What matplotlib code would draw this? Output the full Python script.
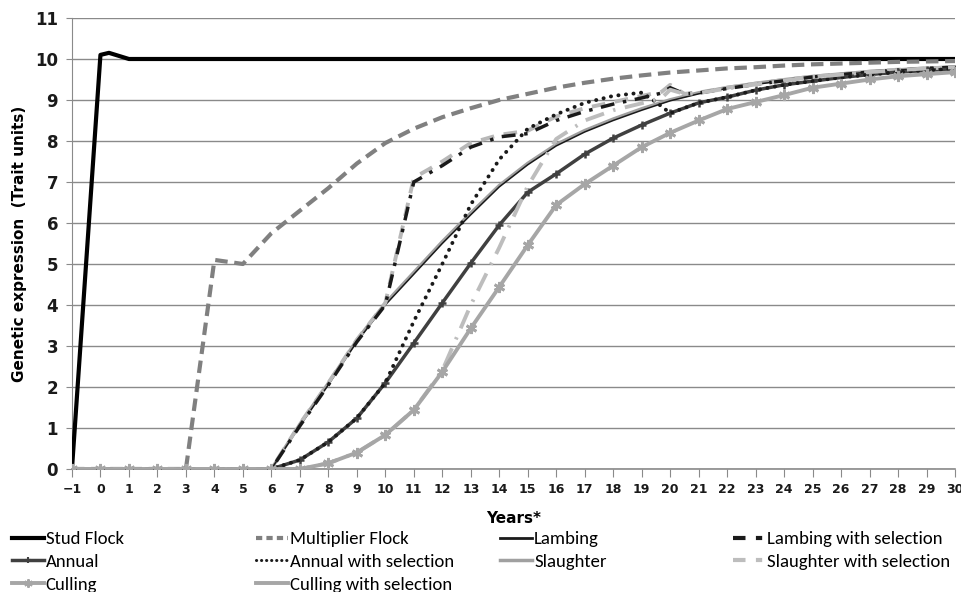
import numpy as np
import matplotlib.pyplot as plt
from matplotlib.lines import Line2D

# years -1 .. 30
years = list(range(-1, 31))

stud_x = [-1, 0, 0.3, 1] + list(range(2, 31))
stud = [0, 10.1, 10.15, 10] + [10] * 29

multiplier = [0, 0, 0, 0, 0, 5.1, 5.0, 5.75, 6.3, 6.85, 7.45, 7.95, 8.3, 8.58,
              8.8, 9.0, 9.15, 9.3, 9.42, 9.52, 9.6, 9.67, 9.72, 9.77, 9.8,
              9.84, 9.87, 9.89, 9.91, 9.93, 9.94, 9.95]

lambing = [0, 0, 0, 0, 0, 0, 0, 0, 1.05, 2.05, 3.1, 4.0, 4.75, 5.5, 6.2, 6.88,
           7.42, 7.88, 8.22, 8.5, 8.75, 8.98, 9.15, 9.28, 9.38, 9.47, 9.56,
           9.62, 9.68, 9.73, 9.77, 9.8]

slaughter = [0, 0, 0, 0, 0, 0, 0, 0, 1.1, 2.1, 3.15, 4.05, 4.8, 5.55, 6.25,
             6.92, 7.46, 7.92, 8.26, 8.54, 8.79, 9.01, 9.18, 9.31, 9.41, 9.5,
             9.58, 9.64, 9.7, 9.74, 9.78, 9.81]

annual = [0, 0, 0, 0, 0, 0, 0, 0, 0.22, 0.66, 1.24, 2.1, 3.07, 4.05, 5.02,
          5.95, 6.75, 7.2, 7.68, 8.07, 8.39, 8.68, 8.93, 9.07, 9.24, 9.37,
          9.46, 9.55, 9.62, 9.68, 9.72, 9.76]

culling = [0, 0, 0, 0, 0, 0, 0, 0, 0, 0.14, 0.4, 0.83, 1.44, 2.37, 3.43, 4.44,
           5.46, 6.44, 6.95, 7.4, 7.85, 8.2, 8.5, 8.78, 8.95, 9.12, 9.3, 9.4,
           9.5, 9.58, 9.63, 9.68]

sel_x = list(range(-1, 20)) + [19.7, 20, 20.5] + list(range(21, 31))

lambing_sel = ([0, 0, 0, 0, 0, 0, 0, 0, 1.05, 2.05, 3.1, 4.0, 7.0, 7.4, 7.85,
                8.1, 8.18, 8.5, 8.72, 8.9, 9.05, 9.17, 9.3, 9.15, 9.17]
               + [9.28, 9.38, 9.47, 9.56, 9.62, 9.68, 9.73, 9.77, 9.8])

culling_sel = ([0, 0, 0, 0, 0, 0, 0, 0, 1.1, 2.1, 3.15, 4.05, 7.1, 7.5, 7.95,
                8.15, 8.25, 8.6, 8.8, 8.95, 9.1, 9.2, 9.37, 9.15, 9.18]
               + [9.3, 9.4, 9.49, 9.57, 9.63, 9.69, 9.74, 9.77, 9.8])

annual_sel_x = list(range(-1, 20)) + [19.5, 20] + list(range(21, 31))
annual_sel = ([0, 0, 0, 0, 0, 0, 0, 0, 0.22, 0.66, 1.24, 2.1, 3.6, 5.0, 6.45,
               7.55, 8.3, 8.65, 8.93, 9.1, 9.18, 8.95, 8.68]
              + [8.93, 9.07, 9.24, 9.37, 9.46, 9.55, 9.62, 9.68, 9.72, 9.76])

slaughter_sel = ([0, 0, 0, 0, 0, 0, 0, 0, 0, 0.14, 0.4, 0.83, 1.44, 2.4, 4.0,
                  5.4, 6.9, 8.05, 8.5, 8.75, 8.92, 9.05, 9.25, 9.15, 9.17]
                 + [9.28, 9.38, 9.47, 9.56, 9.62, 9.68, 9.73, 9.77, 9.8])

star = (6, 2, 0)

fig = plt.figure(figsize=(9.62, 5.92), dpi=100)
ax = fig.add_axes([0.0748, 0.2078, 0.918, 0.7618])

ax.plot(stud_x, stud, color='black', lw=3, zorder=3)
ax.plot(years, multiplier, color='#808080', lw=3, dashes=(3, 1.6), zorder=3)
ax.plot(years, slaughter, color='#a0a0a0', lw=2.2, zorder=3)
ax.plot(years, lambing, color='#1a1a1a', lw=1.1, zorder=3)
ax.plot(sel_x, culling_sel, color='#b8b8b8', lw=2.8, dashes=(3.5, 2.5), zorder=3)
ax.plot(sel_x, lambing_sel, color='#1a1a1a', lw=2.5, dashes=(4, 2.5, 1, 2.5), zorder=3)
ax.plot(years, annual, color='#404040', lw=2.5, marker='+', ms=6, mew=1.8, zorder=3)
ax.plot(annual_sel_x, annual_sel, color='#1a1a1a', lw=2.8, dashes=(0.05, 1.9),
        dash_capstyle='round', zorder=3)
ax.plot(sel_x, slaughter_sel, color='#bdbdbd', lw=2.8, dashes=(5, 2.5, 0.6, 2.5), zorder=3)
ax.plot(years, culling, color='#a6a6a6', lw=2.8, marker=star, ms=8, mew=2, zorder=3)

ax.set_xlim(-1, 30)
ax.set_ylim(0, 11)
ax.set_xticks(range(-1, 31))
ax.set_yticks(range(0, 12))
ax.grid(axis='y', color='#8a8a8a', lw=1)
ax.set_axisbelow(True)
for s in ['top', 'right']:
    ax.spines[s].set_visible(False)
ax.spines['left'].set_color('#8a8a8a')
ax.spines['bottom'].set_color('#8a8a8a')
ax.spines['bottom'].set_linewidth(1.2)
ax.tick_params(axis='x', direction='out', length=6, color='#8a8a8a', labelsize=9, pad=4)
ax.tick_params(axis='y', direction='out', length=4, color='#8a8a8a', labelsize=12, pad=6)
for lab in ax.get_xticklabels() + ax.get_yticklabels():
    lab.set_fontweight('bold')
    lab.set_color('#1a1a1a')

ax.set_xlabel('Years*', fontsize=11, fontweight='bold', labelpad=11)
ax.set_ylabel('Genetic expression  (Trait units)', fontsize=11, fontweight='bold', labelpad=6)

# legend handles
h = {
    'Stud Flock': Line2D([], [], color='black', lw=3),
    'Multiplier Flock': Line2D([], [], color='#808080', lw=3, dashes=(1.5, 1)),
    'Lambing': Line2D([], [], color='#1a1a1a', lw=2),
    'Lambing with selection': Line2D([], [], color='#1a1a1a', lw=3, dashes=(3, 2.5, 1.5, 2.5)),
    'Annual': Line2D([], [], color='#404040', lw=2.5, marker='+', ms=5, mew=1.5, markevery=[1]),
    'Annual with selection': Line2D([], [], color='#1a1a1a', lw=2.2, dashes=(0.05, 1.6),
                                    dash_capstyle='round'),
    'Slaughter': Line2D([], [], color='#a0a0a0', lw=2.5),
    'Slaughter with selection': Line2D([], [], color='#bdbdbd', lw=3, dashes=(3, 2.5, 1.5, 2.5)),
    'Culling': Line2D([], [], color='#a6a6a6', lw=2.8, marker=star, ms=6, mew=1.5, markevery=[1]),
    'Culling with selection': Line2D([], [], color='#a6a6a6', lw=2.8),
}
cols = [
    (['Stud Flock', 'Annual', 'Culling'], 0.0125),
    (['Multiplier Flock', 'Annual with selection', 'Culling with selection'], 0.266),
    (['Lambing', 'Slaughter'], 0.52),
    (['Lambing with selection', 'Slaughter with selection'], 0.762),
]
for names, x0 in cols:
    for n in names:
        h[n].set_xdata([0, 0.5, 1])
    fig.legend([h[n] for n in names], names, loc='upper left',
               bbox_to_anchor=(x0, 0.103), bbox_transform=fig.transFigure,
               frameon=False, handlelength=1.7, handletextpad=0.1,
               labelspacing=0.36, borderpad=0, borderaxespad=0,
               prop={'family': ['Carlito', 'Liberation Sans Narrow', 'DejaVu Sans'],
                     'size': 13.5})

fig.savefig('out.png', dpi=100)
